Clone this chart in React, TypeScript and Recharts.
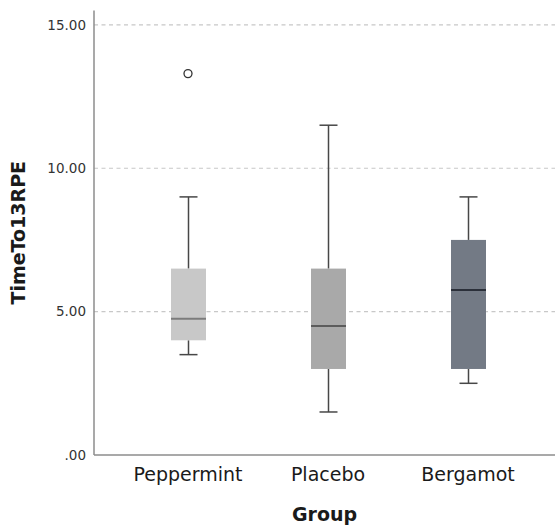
import React from 'react';
import { ComposedChart, Bar, Scatter, XAxis, YAxis, CartesianGrid } from 'recharts';

// box plot summary per group
const groups = ['Peppermint', 'Placebo', 'Bergamot'];
const mins = [3.5, 1.5, 2.5];
const q1s = [4, 3, 3];
const medians = [4.75, 4.5, 5.75];
const q3s = [6.5, 6.5, 7.5];
const maxs = [9, 11.5, 9];
const boxColors = ['#c8c8c8', '#a9a9a9', '#737a85'];
const medianColors = ['#7c7c7c', '#5c5c5c', '#2b303a'];

const outlierGroups = ['Peppermint'];
const outlierValues = [13.3];

const yTicks = [0, 5, 10, 15];
const gridValues = [5, 10, 15];

const data = groups.map((g, i) => ({
  group: g,
  range: [mins[i], maxs[i]],
  min: mins[i],
  q1: q1s[i],
  median: medians[i],
  q3: q3s[i],
  max: maxs[i],
  fill: boxColors[i],
  medianColor: medianColors[i],
}));

const outliers = outlierGroups.map((g, i) => ({ group: g, outlier: outlierValues[i] }));

const font = '"DejaVu Sans", sans-serif';

const BoxShape = (props: any) => {
  const { x, y, width, height, payload } = props;
  if (!payload) return null;
  const top = Math.min(y, y + height);
  const bottom = Math.max(y, y + height);
  const { min, max, q1, q3, median, fill, medianColor } = payload;
  // map value to pixel using the bar's own (scaled) extent
  const pix = (v: number) => bottom - ((bottom - top) * (v - min)) / (max - min);
  const cx = x + width / 2;
  const cap = 9;
  const whisker = '#474747';
  return (
    <g>
      <line x1={cx} x2={cx} y1={pix(max)} y2={pix(q3)} stroke={whisker} strokeWidth={1.5} />
      <line x1={cx} x2={cx} y1={pix(q1)} y2={pix(min)} stroke={whisker} strokeWidth={1.5} />
      <line x1={cx - cap} x2={cx + cap} y1={pix(max)} y2={pix(max)} stroke={whisker} strokeWidth={1.5} />
      <line x1={cx - cap} x2={cx + cap} y1={pix(min)} y2={pix(min)} stroke={whisker} strokeWidth={1.5} />
      <rect x={x} y={pix(q3)} width={width} height={pix(q1) - pix(q3)} fill={fill} />
      <line x1={x} x2={x + width} y1={pix(median)} y2={pix(median)} stroke={medianColor} strokeWidth={2} />
    </g>
  );
};

const OutlierShape = (props: any) => {
  const { cx, cy } = props;
  return <circle cx={cx} cy={cy} r={4} fill="#fff" stroke="#333" strokeWidth={1.3} />;
};

export default function App() {
  return (
    <div style={{ position: 'fixed', left: 0, top: 0, background: '#fff' }}>
      <ComposedChart width={555} height={525} data={data} margin={{ top: 10.5, right: 0, left: 0, bottom: 0 }}>
        <CartesianGrid
          vertical={false}
          stroke="#c8c8c8"
          strokeWidth={1.2}
          strokeDasharray="4 3.5"
          horizontalValues={gridValues}
        />
        <XAxis
          dataKey="group"
          allowDuplicatedCategory={false}
          height={70}
          padding={{ left: 24, right: 17 }}
          tickLine={false}
          tickSize={0}
          tickMargin={13}
          axisLine={{ stroke: '#8c8c8c', strokeWidth: 1.5 }}
          tick={{ fontSize: 19, fill: '#1a1a1a', fontFamily: font }}
          label={{ value: 'Group', position: 'insideBottom', offset: 4, fontSize: 19, fontWeight: 'bold', fill: '#1a1a1a', fontFamily: font }}
        />
        <YAxis
          type="number"
          domain={[0, 15.5]}
          ticks={yTicks}
          width={94}
          tickLine={false}
          tickSize={0}
          tickMargin={8}
          axisLine={{ stroke: '#8c8c8c', strokeWidth: 1.5 }}
          tickFormatter={(v: number) => (v === 0 ? '.00' : v.toFixed(2))}
          tick={{ fontSize: 13.5, fill: '#333', fontFamily: font }}
          label={{
            value: 'TimeTo13RPE',
            angle: -90,
            position: 'insideLeft',
            offset: 18,
            fontSize: 19,
            fontWeight: 'bold',
            fill: '#1a1a1a',
            fontFamily: font,
            style: { textAnchor: 'middle' },
          }}
        />
        <Bar dataKey="range" barSize={35} shape={<BoxShape />} isAnimationActive={false} />
        <Scatter data={outliers} dataKey="outlier" shape={<OutlierShape />} isAnimationActive={false} />
      </ComposedChart>
    </div>
  );
}
